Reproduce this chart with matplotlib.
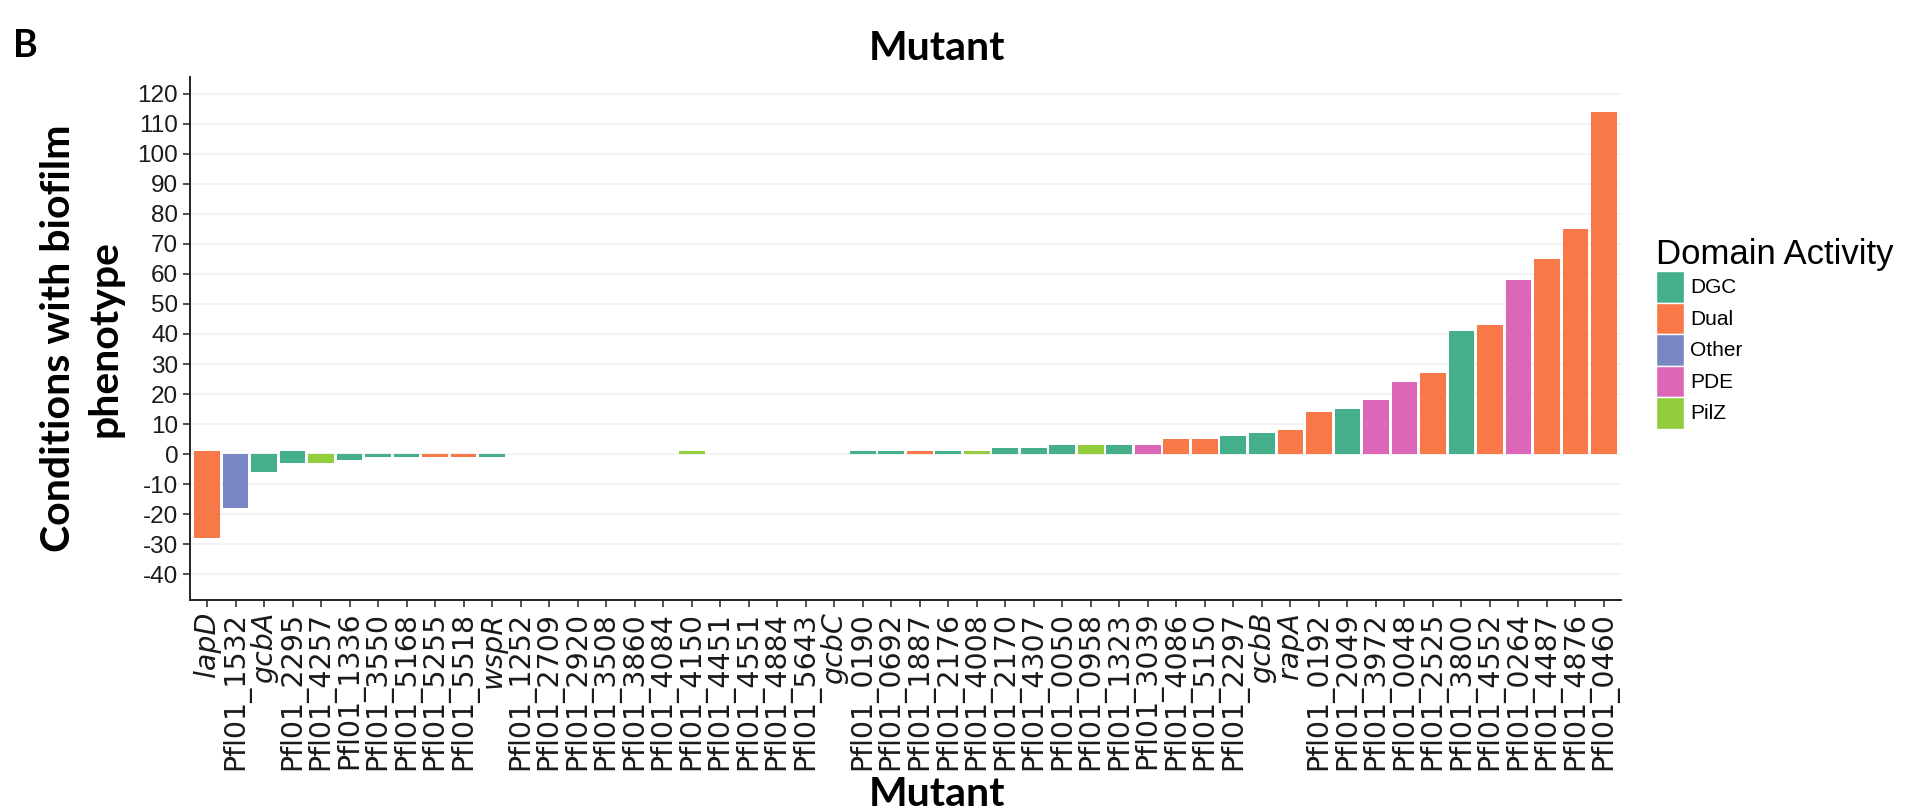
"""
Panel B: number of conditions with a biofilm phenotype per mutant,
coloured by the domain activity of the mutated gene.
"""

import matplotlib
matplotlib.use("Agg")
import matplotlib.pyplot as plt
from matplotlib.patches import Patch

mutants = [
    "lapD", "Pfl01_1532", "gcbA", "Pfl01_2295", "Pfl01_4257", "Pfl01_1336",
    "Pfl01_3550", "Pfl01_5168", "Pfl01_5255", "Pfl01_5518", "wspR",
    "Pfl01_1252", "Pfl01_2709", "Pfl01_2920", "Pfl01_3508", "Pfl01_3860",
    "Pfl01_4084", "Pfl01_4150", "Pfl01_4451", "Pfl01_4551", "Pfl01_4884",
    "Pfl01_5643", "gcbC", "Pfl01_0190", "Pfl01_0692", "Pfl01_1887",
    "Pfl01_2176", "Pfl01_4008", "Pfl01_2170", "Pfl01_4307", "Pfl01_0050",
    "Pfl01_0958", "Pfl01_1323", "Pfl01_3039", "Pfl01_4086", "Pfl01_5150",
    "Pfl01_2297", "gcbB", "rapA", "Pfl01_0192", "Pfl01_2049", "Pfl01_3972",
    "Pfl01_0048", "Pfl01_2525", "Pfl01_3800", "Pfl01_4552", "Pfl01_0264",
    "Pfl01_4487", "Pfl01_4876", "Pfl01_0460",
]
domains = [
    "Dual", "Other", "DGC", "DGC", "PilZ", "DGC",
    "DGC", "DGC", "Dual", "Dual", "DGC",
    "DGC", "DGC", "DGC", "DGC", "DGC",
    "DGC", "PilZ", "DGC", "DGC", "DGC",
    "DGC", "DGC", "DGC", "DGC", "Dual",
    "DGC", "PilZ", "DGC", "DGC", "DGC",
    "PilZ", "DGC", "PDE", "Dual", "Dual",
    "DGC", "DGC", "Dual", "Dual", "DGC", "PDE",
    "PDE", "Dual", "DGC", "Dual", "PDE",
    "Dual", "Dual", "Dual",
]
# conditions with increased (positive) and decreased (negative) biofilm
increased = [
    1, 0, 0, 1, 0, 0, 0, 0, 0, 0, 0,
    0, 0, 0, 0, 0, 0, 1, 0, 0, 0, 0, 0,
    1, 1, 1, 1, 1, 2, 2, 3, 3, 3, 3, 5, 5, 6, 7, 8,
    14, 15, 18, 24, 27, 41, 43, 58, 65, 75, 114,
]
decreased = [
    -28, -18, -6, -3, -3, -2, -1, -1, -1, -1, -1,
    0, 0, 0, 0, 0, 0, 0, 0, 0, 0, 0, 0,
    0, 0, 0, 0, 0, 0, 0, 0, 0, 0, 0, 0, 0, 0, 0, 0,
    0, 0, 0, 0, 0, 0, 0, 0, 0, 0, 0,
]
domain_order = ["DGC", "Dual", "Other", "PDE", "PilZ"]
italic_names = ["lapD", "gcbA", "wspR", "gcbC", "gcbB", "rapA"]
yticks = list(range(-40, 121, 10))

DOMAIN_COL = {
    "DGC": "#45AE8A",
    "Dual": "#F87848",
    "Other": "#7887C3",
    "PDE": "#DC66B8",
    "PilZ": "#92CD3E",
}
TICK_FONT = "Liberation Sans"
XTICK_FONT = "DejaVu Sans"
BOLD_FONT = "Lato"

W, H = 1905, 810
fig = plt.figure(figsize=(W / 100, H / 100), dpi=100)
ax = fig.add_axes([190 / W, 1 - 600 / H, (1621 - 190) / W, (600 - 77) / H])

x = list(range(len(mutants)))
cols = [DOMAIN_COL[d] for d in domains]
ax.bar(x, increased, 0.9, color=cols, linewidth=0)
ax.bar(x, decreased, 0.9, color=cols, linewidth=0)

ax.set_xlim(-0.6, len(mutants) - 0.4)
ax.set_ylim(-48.5, 125.5)
ax.set_axisbelow(True)
ax.yaxis.grid(True, color="#F1F1F1", linewidth=1.2)
for s in ("top", "right"):
    ax.spines[s].set_visible(False)
for s in ("left", "bottom"):
    ax.spines[s].set_linewidth(1.4)
    ax.spines[s].set_color("#222222")
ax.tick_params(direction="out", length=5, width=1.2, color="#333333")

ax.set_yticks(yticks)
ax.set_yticklabels([str(v) for v in yticks], fontsize=17.5, family=TICK_FONT,
                   color="#1a1a1a")
ax.set_xticks(x)
ax.set_xticklabels(mutants, rotation=90, fontsize=20.5, family=XTICK_FONT,
                   color="#1a1a1a")
for lbl in ax.get_xticklabels():
    if lbl.get_text() in italic_names:
        lbl.set_fontstyle("italic")

ax.set_ylabel("Conditions with biofilm\nphenotype", fontsize=29.5,
              fontweight="bold", family=BOLD_FONT, va="center",
              linespacing=1.3)
ax.yaxis.set_label_coords(-0.0755, 0.5)
ax.set_xlabel("Mutant", fontsize=29.5, fontweight="bold", family=BOLD_FONT,
              va="center")
ax.xaxis.set_label_coords(0.522, -(795 - 600) / 523)
ax.text(0.522, 1 + (77 - 49) / 523, "Mutant", transform=ax.transAxes,
        ha="center", va="center", fontsize=29.5, fontweight="bold",
        family=BOLD_FONT)
fig.text(13 / W, 1 - 46 / H, "B", ha="left", va="center", fontsize=27,
         fontweight="bold", family=BOLD_FONT)

handles = [Patch(facecolor=DOMAIN_COL[d], edgecolor="white", linewidth=1,
                 label=d) for d in domain_order]
fig.legend(handles=handles, title="Domain Activity", loc="upper left",
           bbox_to_anchor=(1656 / W, 1 - 238 / H), frameon=False,
           prop={"family": TICK_FONT, "size": 15},
           title_fontproperties={"family": TICK_FONT, "size": 25},
           handlelength=1.35, handleheight=1.95, labelspacing=0,
           handletextpad=0.3, borderpad=0, borderaxespad=0,
           alignment="left")

fig.savefig("out.png", dpi=100)
plt.close(fig)
